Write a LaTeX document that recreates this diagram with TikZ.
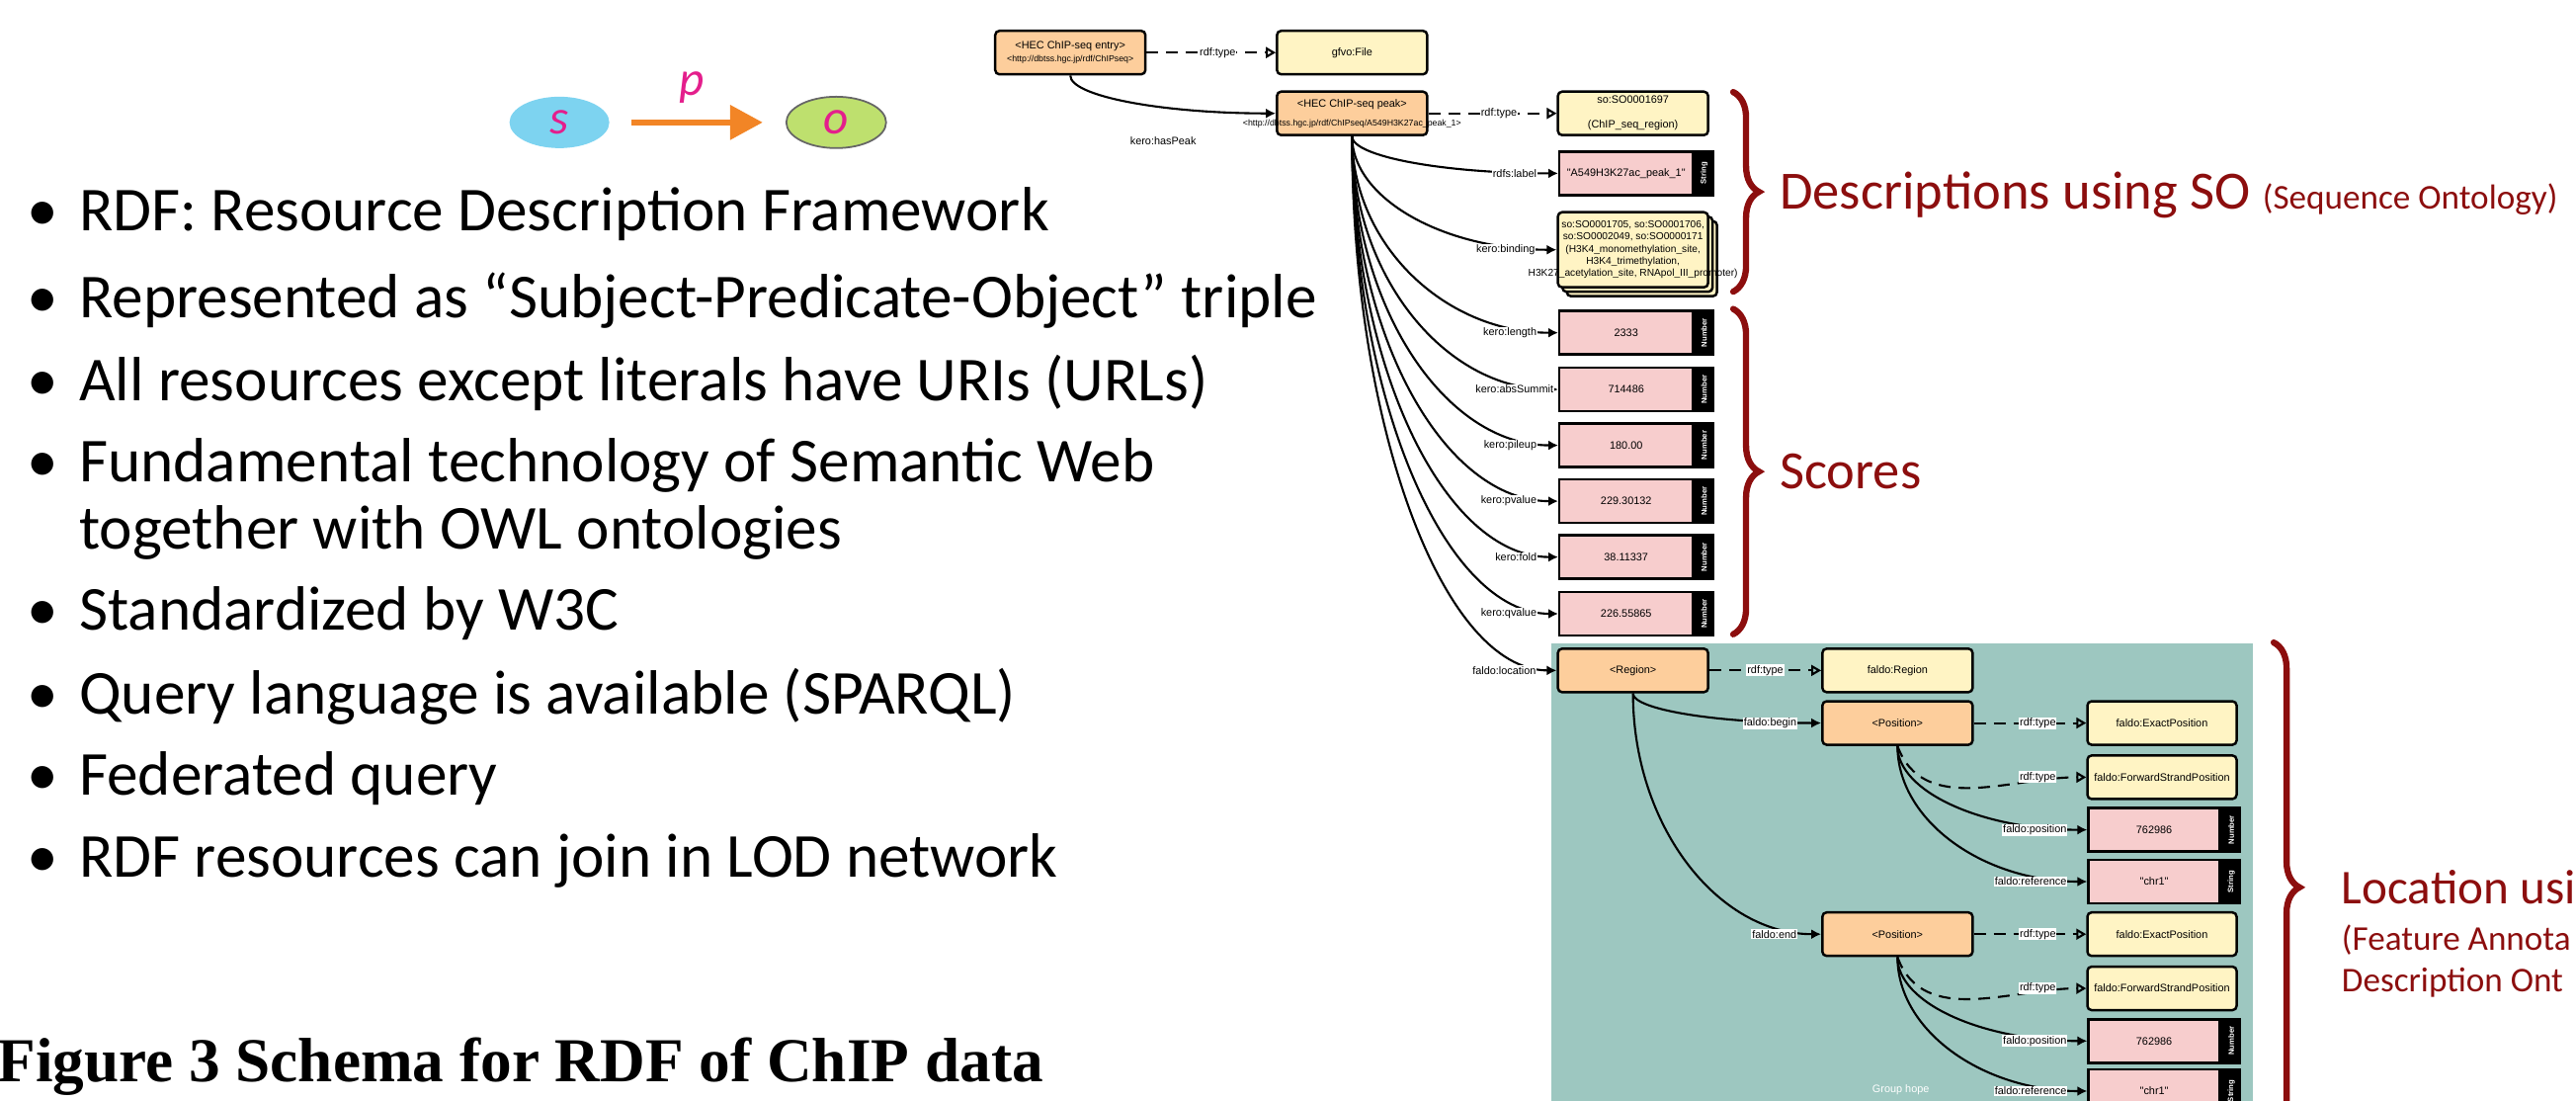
\documentclass[tikz,border=0pt]{standalone}
\usepackage{fontspec}
\setmainfont{Carlito}
\newfontfamily\diafont{Liberation Sans}
\newfontfamily\capfont{Liberation Serif}
\usetikzlibrary{shapes.geometric, arrows.meta, positioning, calc, shadows, decorations.pathreplacing}

\definecolor{resorange}{RGB}{253,206,156}
\definecolor{clsyellow}{RGB}{255,244,196}
\definecolor{litpink}{RGB}{247,205,205}
\definecolor{groupteal}{RGB}{157,199,192}
\definecolor{bracered}{RGB}{140,14,14}
\definecolor{subjblue}{RGB}{125,211,240}
\definecolor{objgreen}{RGB}{190,224,110}
\definecolor{predpink}{RGB}{228,30,140}
\definecolor{predorange}{RGB}{242,133,38}

\newcommand{\bul}{\makebox[5.3mm][l]{\textbullet}}
\newcommand{\dsz}{\diafont\fontsize{3.1}{3.7}\selectfont}

\begin{document}
\begin{tikzpicture}[
        x=0.16626mm, y=-0.16626mm,
        bullet/.style={anchor=west, inner sep=0pt, font=\fontsize{18}{21}\selectfont},
        subj/.style={ellipse, fill=subjblue, minimum width=10.1mm, minimum height=5.2mm, inner sep=0pt, text=predpink, font=\itshape\fontsize{14}{14}\selectfont},
        obj/.style={subj, fill=objgreen, draw=black!60, line width=0.5pt},
        pred/.style={draw=predorange, line width=1.7pt, -{Triangle[length=3.3mm, width=3.4mm]}, shorten <=2.2mm, shorten >=2.3mm},
        res/.style={draw, line width=0.7pt, rounded corners=1.2pt, fill=resorange, minimum width=15.2mm, minimum height=4.4mm, inner sep=0.5pt, align=center, font=\dsz},
        cls/.style={res, fill=clsyellow},
        lit/.style={draw, line width=0.7pt, fill=litpink, anchor=west, minimum width=13.5mm, minimum height=4.4mm, inner sep=0.5pt, font=\dsz},
        tag/.style={draw, line width=0.7pt, fill=black, text=white, rotate=90, anchor=north, minimum width=4.4mm, minimum height=1.8mm, inner sep=0pt, font=\diafont\bfseries\fontsize{2.2}{2.4}\selectfont},
        lbl/.style={fill=white, inner sep=0.25pt, font=\dsz},
        rel/.style={line width=0.6pt, -{Latex[length=1mm, width=1mm]}},
        isa/.style={line width=0.6pt, dash pattern=on 1.2mm off 0.8mm, -{Triangle[open, length=1mm, width=1.1mm]}},
        sweep/.style={to path={.. controls ($(\tikztostart)!0.55!(\tikztostart |- \tikztotarget)$) and ($(\tikztotarget)!0.55!(\tikztostart |- \tikztotarget)$) .. (\tikztotarget) \tikztonodes}},
        curly/.style={draw=bracered, line width=1.8pt, line cap=round, decorate, decoration={brace, amplitude=2.6mm}},
        remark/.style={anchor=west, inner sep=0pt, text=bracered, font=\fontsize{15.5}{19}\selectfont}
    ]
    \useasboundingbox (0,0) rectangle (1568,670);
    \clip (0,0) rectangle (1568,670);

    % Slide title, cut off at the top
    \node[anchor=base, inner sep=0pt, font=\fontsize{44}{50}\selectfont] (ttl) at (512,-25) {y};

    % Triple
    \node[subj] (s) at (340.5,74.5) {s};
    \node[obj] (o) at (509,74.5) {o};
    \draw[pred] (s) -- node[above=0.5mm, xshift=-0.6mm, text=predpink, font=\itshape\fontsize{14}{14}\selectfont] (p) {p} (o);

    % Bullets
    \node[bullet] (b1) at (16,130) {\bul RDF: Resource Description Framework};
    \node[bullet] (b2) at (16,183) {\bul Represented as “Subject-Predicate-Object” triple};
    \node[bullet] (b3) at (16,233) {\bul All resources except literals have URIs (URLs)};
    \node[bullet] (b4) at (16,283) {\bul Fundamental technology of Semantic Web};
    \node[bullet] (b4b) at (16,324) {\hphantom{\bul}together with OWL ontologies};
    \node[bullet] (b5) at (16,373) {\bul Standardized by W3C};
    \node[bullet] (b6) at (16,424) {\bul Query language is available (SPARQL)};
    \node[bullet] (b7) at (16,474) {\bul Federated query};
    \node[bullet] (b8) at (16,524) {\bul RDF resources can join in LOD network};

    % Caption
    \node[anchor=west, inner sep=0pt, font=\capfont\bfseries\fontsize{18}{20}\selectfont] (cap) at (-2,649) {Figure 3 Schema for RDF of ChIP data};

    % FALDO group
    \fill[groupteal] (944,391.5) rectangle (1371.5,700);
    \node[text=white, font=\dsz] (grp) at (1157,663) {Group hope};

    % Entry and peak
    \node[res] (entry) at (651.5,32) {<HEC ChIP-seq entry>\\{\fontsize{2.5}{3}\selectfont <http://dbtss.hgc.jp/rdf/ChIPseq>}};
    \node[cls] (file) at (823,32) {gfvo:File};
    \node[res] (peak) at (823,69) {<HEC ChIP-seq peak>\\[0.6mm]\makebox[0pt]{\fontsize{2.5}{3}\selectfont <http://dbtss.hgc.jp/rdf/ChIPseq/A549H3K27ac\_peak\_1>}};
    \node[cls] (so) at (994,69) {so:SO0001697\\[1.2mm](ChIP\_seq\_region)};

    % Descriptions
    \node[lit] (name) at (948.5,105.5) {"A549H3K27ac\_peak\_1"};
    \node[tag] (nametag) at (name.east) {String};
    \node[cls, minimum height=7.6mm, double copy shadow={shadow xshift=0.45mm, shadow yshift=-0.45mm}, font=\diafont\fontsize{2.9}{3.5}\selectfont] (bind) at (994,152) {so:SO0001705, so:SO0001706,\\so:SO0002049, so:SO0000171\\(H3K4\_monomethylation\_site,\\H3K4\_trimethylation,\\\makebox[0pt]{H3K27\_acetylation\_site, RNApol\_III\_promoter)}};

    % Scores
    \node[lit] (len) at (948.5,202.5) {2333};
    \node[tag] (lentag) at (len.east) {Number};
    \node[lit] (summit) at (948.5,237) {714486};
    \node[tag] (summittag) at (summit.east) {Number};
    \node[lit] (pile) at (948.5,271) {180.00};
    \node[tag] (piletag) at (pile.east) {Number};
    \node[lit] (pval) at (948.5,305) {229.30132};
    \node[tag] (pvaltag) at (pval.east) {Number};
    \node[lit] (fold) at (948.5,339) {38.11337};
    \node[tag] (foldtag) at (fold.east) {Number};
    \node[lit] (qval) at (948.5,373.5) {226.55865};
    \node[tag] (qvaltag) at (qval.east) {Number};

    % Location
    \node[res] (region) at (994,408) {<Region>};
    \node[cls] (fregion) at (1155,408) {faldo:Region};
    \node[res] (pbegin) at (1155,440) {<Position>};
    \node[cls, minimum width=15.1mm] (exact1) at (1316,440) {faldo:ExactPosition};
    \node[cls, minimum width=15.1mm] (strand1) at (1316,473) {faldo:ForwardStrandPosition};
    \node[lit, minimum width=13.3mm] (pos1) at (1270.5,505) {762986};
    \node[tag] (pos1tag) at (pos1.east) {Number};
    \node[lit, minimum width=13.3mm] (ref1) at (1270.5,536.5) {"chr1"};
    \node[tag] (ref1tag) at (ref1.east) {String};
    \node[res] (pend) at (1155,568.5) {<Position>};
    \node[cls, minimum width=15.1mm] (exact2) at (1316,568.5) {faldo:ExactPosition};
    \node[cls, minimum width=15.1mm] (strand2) at (1316,601.5) {faldo:ForwardStrandPosition};
    \node[lit, minimum width=13.3mm] (pos2) at (1270.5,633.5) {762986};
    \node[tag] (pos2tag) at (pos2.east) {Number};
    \node[lit, minimum width=13.3mm] (ref2) at (1270.5,664) {"chr1"};
    \node[tag] (ref2tag) at (ref2.east) {String};

    % Edges from entry and peak
    \draw[isa] (entry) -- node[lbl, pos=0.55] {rdf:type} (file);
    \draw[rel] (entry.south) to[sweep] (peak.west);
    \node[lbl] (haspeak) at (708,86) {kero:hasPeak};
    \draw[isa] (peak) -- node[lbl, pos=0.55] {rdf:type} (so);
    \draw[rel] (peak.south) to[sweep] node[lbl, pos=1, anchor=east, xshift=-2mm] {rdfs:label} (name.west);
    \draw[rel] (peak.south) to[sweep] node[lbl, pos=1, anchor=east, xshift=-2mm] {kero:binding} (bind.west);
    \draw[rel] (peak.south) to[sweep] node[lbl, pos=1, anchor=east, xshift=-2mm] {kero:length} (len.west);
    \draw[rel] (peak.south) to[sweep] node[lbl, pos=1, anchor=east, xshift=-0.3mm] {kero:absSummit} (summit.west);
    \draw[rel] (peak.south) to[sweep] node[lbl, pos=1, anchor=east, xshift=-2mm] {kero:pileup} (pile.west);
    \draw[rel] (peak.south) to[sweep] node[lbl, pos=1, anchor=east, xshift=-2mm] {kero:pvalue} (pval.west);
    \draw[rel] (peak.south) to[sweep] node[lbl, pos=1, anchor=east, xshift=-2mm] {kero:fold} (fold.west);
    \draw[rel] (peak.south) to[sweep] node[lbl, pos=1, anchor=east, xshift=-2mm] {kero:qvalue} (qval.west);
    \draw[rel] (peak.south) to[sweep] node[lbl, pos=1, anchor=east, xshift=-1.9mm] {faldo:location} (region.west);

    % Edges inside the location group
    \draw[isa] (region) -- node[lbl, pos=0.5] {rdf:type} (fregion);
    \draw[rel] (region.south) to[sweep] node[lbl, pos=1, anchor=east, xshift=-2.3mm] {faldo:begin} (pbegin.west);
    \draw[rel] (region.south) to[sweep] node[lbl, pos=1, anchor=east, xshift=-2.3mm] {faldo:end} (pend.west);
    \draw[isa] (pbegin) -- node[lbl, pos=0.57] {rdf:type} (exact1);
    \draw[isa] (pbegin.south) to[out=-70, in=180] node[lbl, pos=1, anchor=east, xshift=-2.9mm] {rdf:type} (strand1.west);
    \draw[rel] (pbegin.south) to[sweep] node[lbl, pos=1, anchor=east, xshift=-1.9mm] {faldo:position} (pos1.west);
    \draw[rel] (pbegin.south) to[sweep] node[lbl, pos=1, anchor=east, xshift=-1.9mm] {faldo:reference} (ref1.west);
    \draw[isa] (pend) -- node[lbl, pos=0.57] {rdf:type} (exact2);
    \draw[isa] (pend.south) to[out=-70, in=180] node[lbl, pos=1, anchor=east, xshift=-2.9mm] {rdf:type} (strand2.west);
    \draw[rel] (pend.south) to[sweep] node[lbl, pos=1, anchor=east, xshift=-1.9mm] {faldo:position} (pos2.west);
    \draw[rel] (pend.south) to[sweep] node[lbl, pos=1, anchor=east, xshift=-1.9mm] {faldo:reference} (ref2.west);

    % Braces and remarks
    \draw[curly] (1055,56) -- (1055,177.5);
    \draw[curly] (1055,188) -- (1055,386);
    \draw[curly] (1384,391) -- (1384,689);
    \node[remark] (desc) at (1083,118.5) {Descriptions using SO {\fontsize{10}{12}\selectfont (Sequence Ontology)}};
    \node[remark] (scores) at (1083,287) {Scores};
    \node[remark, font=\fontsize{14}{17}\selectfont] (loc) at (1425,540) {Location usi};
    \node[remark, font=\fontsize{10}{12}\selectfont] (loc2) at (1425,572) {(Feature Annota};
    \node[remark, font=\fontsize{10}{12}\selectfont] (loc3) at (1425,598) {Description Ont};
\end{tikzpicture}
\end{document}
